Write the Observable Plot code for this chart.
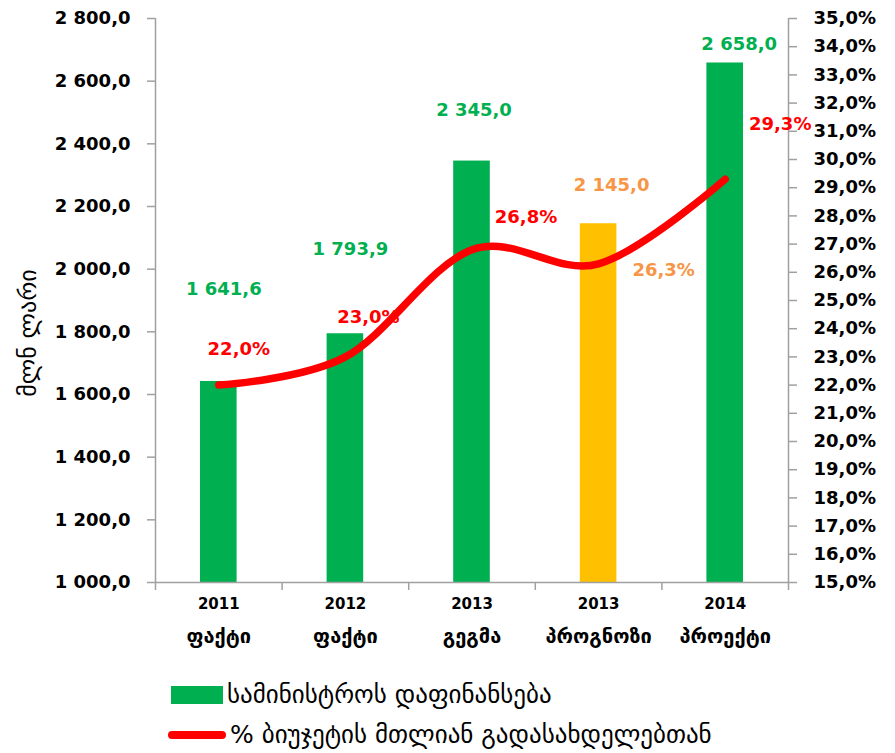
<!DOCTYPE html>
<html><head><meta charset="utf-8">
<script src="https://cdn.jsdelivr.net/npm/d3@7"></script>
<script src="https://cdn.jsdelivr.net/npm/@observablehq/plot@0.6"></script>
<style>
body{margin:0;background:#fff;font-family:"DejaVu Sans",sans-serif;}
#wrap{position:relative;width:895px;height:753px;overflow:hidden;background:#fff;}
#wrap svg{position:absolute;left:0;top:0;}
.ytitle{position:absolute;left:28px;top:333px;transform:translate(-50%,-50%) rotate(-90deg);font-size:24px;line-height:28px;white-space:nowrap;color:#000;}
.leg{position:absolute;display:flex;align-items:center;font-size:25px;line-height:29px;color:#000;white-space:nowrap;}
.sw-bar{width:52px;height:18px;background:#00b050;margin-right:4px;}
.sw-line{width:58px;height:8px;border-radius:4px;background:#ff0000;margin-right:4px;}
</style></head><body><div id="wrap"></div>
<script>
// ---- data ----
const years = ["2011", "2012", "2013", "2013", "2014"];
const kinds = ["ფაქტი", "ფაქტი", "გეგმა", "პროგნოზი", "პროექტი"];
const funding = [1641.6, 1793.9, 2345.0, 2145.0, 2658.0];
const shares = [22.0, 23.0, 26.8, 26.3, 29.3];
const leftTicks = [1000, 1200, 1400, 1600, 1800, 2000, 2200, 2400, 2600, 2800];
const rightTicks = [15,16,17,18,19,20,21,22,23,24,25,26,27,28,29,30,31,32,33,34,35];
const seriesBarName = "სამინისტროს დაფინანსება";
const seriesLineName = "% ბიუჯეტის მთლიან გადასახდელებთან";
const yTitle = "მლნ ლარი";

// ---- layout / style ----
const W = 895, H = 660, mT = 18, mB = 78, mL = 155, mR = 107;
const GREEN = "#00b050", ORANGE = "#ffc000", LORANGE = "#f79646", RED = "#ff0000", GRAY = "#a0a0a0";
const forecastKind = "პროგნოზი";
const barLabelOff = [[5,-92],[5,-85],[2,-51],[13,-38],[14,-19]];
const lineLabelOff = [[20,-36],[23,-40],[54,-33],[65,6],[55,-55]];

const loc = d3.formatLocale({decimal: ",", thousands: "\u00a0", grouping: [3], currency: ["", ""]});
const fmtNum = loc.format(",.1f");
const fmtPct = v => loc.format(".1f")(v) + "%";

const rows = years.map((y, i) => ({i, year: y, kind: kinds[i], value: funding[i], share: shares[i]}));
const isFc = d => d.kind === forecastKind;
const n = rows.length;
const font = {fontFamily: "'DejaVu Sans', sans-serif", background: "transparent", overflow: "visible", color: "#000"};

const c1 = Plot.plot({
  width: W, height: H, marginTop: mT, marginBottom: mB, marginLeft: mL, marginRight: mR,
  style: font,
  color: {type: "identity"},
  x: {type: "linear", domain: [0, n], axis: null, label: null},
  y: {domain: [leftTicks[0], leftTicks[leftTicks.length - 1]], axis: null, label: null},
  marks: [
    Plot.rectY(rows, {x1: "i", x2: d => d.i + 1, y1: leftTicks[0], y2: "value",
      fill: d => isFc(d) ? ORANGE : GREEN, insetLeft: 45, insetRight: 45}),
    Plot.ruleY([leftTicks[0]], {stroke: GRAY, strokeWidth: 1.5}),
    Plot.ruleX([0], {stroke: GRAY, strokeWidth: 1.5}),
    Plot.axisY({anchor: "left", ticks: leftTicks, tickSize: 8, tickPadding: 17, tickFormat: fmtNum,
      fontSize: 18, fontWeight: "bold", stroke: GRAY, strokeWidth: 1.5, label: null}),
    Plot.axisX({anchor: "bottom", ticks: d3.range(0, n + 1), tickSize: 8, tickFormat: () => "",
      stroke: GRAY, strokeWidth: 1.5, label: null}),
    Plot.axisX({anchor: "bottom", ticks: rows.map(d => d.i + 0.5), tickSize: 0, tickPadding: 16,
      tickFormat: v => years[Math.floor(v)], fontSize: 15, fontWeight: "bold", label: null}),
    Plot.axisX({anchor: "bottom", ticks: rows.map(d => d.i + 0.5), tickSize: 0, tickPadding: 46,
      tickFormat: v => kinds[Math.floor(v)], fontSize: 20, fontWeight: "bold", label: null}),
    ...rows.map((d, k) => Plot.text([d], {x: d.i + 0.5, y: "value", text: r => fmtNum(r.value),
      dx: barLabelOff[k][0], dy: barLabelOff[k][1], fill: isFc(d) ? LORANGE : GREEN,
      fontSize: 18, fontWeight: "bold"}))
  ]
});

const c2 = Plot.plot({
  width: W, height: H, marginTop: mT, marginBottom: mB, marginLeft: mL, marginRight: mR,
  style: font,
  x: {type: "linear", domain: [0, n], axis: null, label: null},
  y: {domain: [rightTicks[0], rightTicks[rightTicks.length - 1]], axis: null, label: null},
  marks: [
    Plot.ruleX([n], {stroke: GRAY, strokeWidth: 1.5}),
    Plot.axisY({anchor: "right", ticks: rightTicks, tickSize: 8, tickPadding: 17, tickFormat: fmtPct,
      fontSize: 18, fontWeight: "bold", stroke: GRAY, strokeWidth: 1.5, label: null}),
    Plot.line(rows, {x: d => d.i + 0.5, y: "share", curve: "cardinal", stroke: RED,
      strokeWidth: 7.5, strokeLinecap: "round", strokeLinejoin: "round"}),
    ...rows.map((d, k) => Plot.text([d], {x: d.i + 0.5, y: "share", text: r => fmtPct(r.share),
      dx: lineLabelOff[k][0], dy: lineLabelOff[k][1], fill: isFc(d) ? LORANGE : RED,
      fontSize: 18, fontWeight: "bold"}))
  ]
});

const wrap = document.getElementById("wrap");
wrap.appendChild(c1);
wrap.appendChild(c2);

const t = document.createElement("div");
t.className = "ytitle"; t.textContent = yTitle; wrap.appendChild(t);

const l1 = document.createElement("div");
l1.className = "leg"; l1.style.left = "171px"; l1.style.top = "680px";
l1.innerHTML = '<div class="sw-bar"></div><span></span>';
l1.querySelector("span").textContent = seriesBarName;
wrap.appendChild(l1);

const l2 = document.createElement("div");
l2.className = "leg"; l2.style.left = "168px"; l2.style.top = "720px";
l2.innerHTML = '<div class="sw-line"></div><span></span>';
l2.querySelector("span").textContent = seriesLineName;
wrap.appendChild(l2);
</script></body></html>
